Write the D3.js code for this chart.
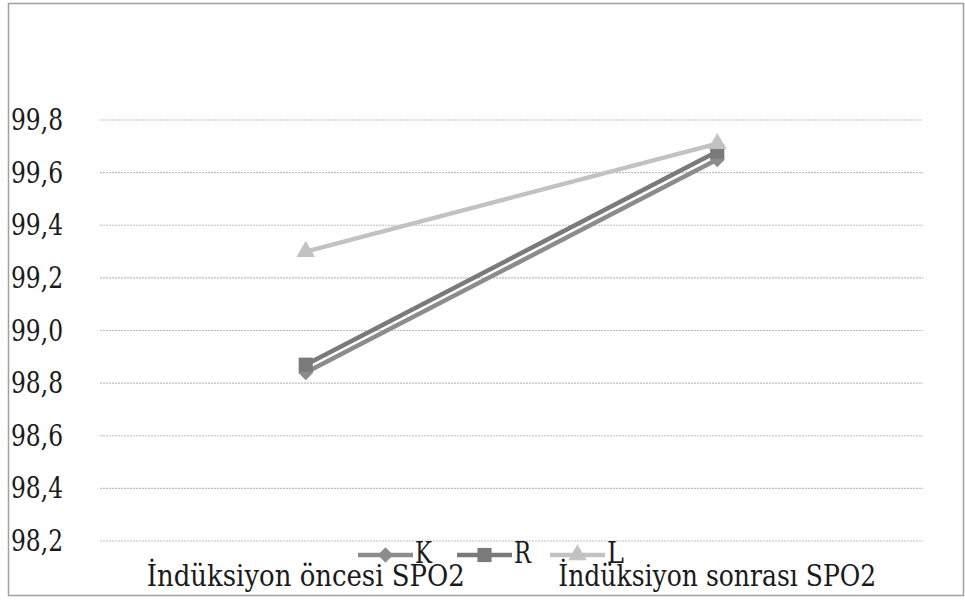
<!DOCTYPE html>
<html>
<head>
<meta charset="utf-8">
<script src="https://cdn.jsdelivr.net/npm/d3@7"></script>
<style>
  html, body { margin: 0; padding: 0; background: #fff; }
  svg { display: block; }
</style>
</head>
<body>
<svg id="chart" width="965" height="606"></svg>
<script>
// Categories and series values (SpO2, %)
const categories = ["İndüksiyon öncesi SPO2", "İndüksiyon sonrası SPO2"];
const seriesNames = ["K", "R", "L"];
const valuesK = [98.84, 99.65];
const valuesR = [98.87, 99.68];
const valuesL = [99.30, 99.71];
const tickValues = [98.2, 98.4, 98.6, 98.8, 99.0, 99.2, 99.4, 99.6, 99.8];

const FONT = "DejaVu Serif";

const series = [
  { name: seriesNames[0], values: valuesK, color: "#8c8c8c", symbol: d3.symbolDiamond2, size: 150 },
  { name: seriesNames[1], values: valuesR, color: "#7a7a7a", symbol: d3.symbolSquare, size: 200 },
  { name: seriesNames[2], values: valuesL, color: "#c2c2c2", symbol: d3.symbolTriangle, size: 150 }
];

const svg = d3.select("#chart")
  .attr("font-family", FONT);

// Outer frame
svg.append("rect")
  .attr("x", 8.5).attr("y", 3.5)
  .attr("width", 955).attr("height", 592)
  .attr("fill", "none")
  .attr("stroke", "#a0a0a0")
  .attr("stroke-width", 1.5);

const plot = { left: 100, right: 923 };

const x = d3.scaleBand()
  .domain(categories)
  .range([plot.left, plot.right]);

const y = d3.scaleLinear()
  .domain([98.2, 99.8])
  .range([541, 120]);

// Horizontal gridlines
svg.append("g")
  .selectAll("line")
  .data(tickValues)
  .join("line")
  .attr("x1", plot.left).attr("x2", plot.right)
  .attr("y1", d => y(d)).attr("y2", d => y(d))
  .attr("stroke", "#bdbdbd")
  .attr("stroke-width", 1.2)
  .attr("stroke-dasharray", "2,1");

// Y tick labels, left-aligned against the frame (narrow, Times-like proportions)
const fmt = d => d3.format(".1f")(d).replace(".", ",");
svg.append("g")
  .selectAll("text")
  .data(tickValues)
  .join("text")
  .attr("x", 11)
  .attr("y", d => y(d) + 10)
  .attr("font-size", 29)
  .attr("textLength", 52)
  .attr("lengthAdjust", "spacingAndGlyphs")
  .attr("fill", "#1a1a1a")
  .text(fmt);

// Series lines and markers
const line = d3.line()
  .x((d, i) => x(categories[i]) + x.bandwidth() / 2)
  .y(d => y(d));

series.forEach(s => {
  svg.append("path")
    .datum(s.values)
    .attr("d", line)
    .attr("fill", "none")
    .attr("stroke", s.color)
    .attr("stroke-width", 4.5);
});

series.forEach(s => {
  svg.append("g")
    .selectAll("path")
    .data(s.values)
    .join("path")
    .attr("d", d3.symbol().type(s.symbol).size(s.size))
    .attr("transform", (d, i) => `translate(${x(categories[i]) + x.bandwidth() / 2},${y(d)})`)
    .attr("fill", s.color);
});

// Category labels
svg.append("g")
  .selectAll("text")
  .data(categories)
  .join("text")
  .attr("x", d => x(d) + x.bandwidth() / 2)
  .attr("y", 586)
  .attr("text-anchor", "middle")
  .attr("font-size", 30)
  .attr("textLength", 318)
  .attr("lengthAdjust", "spacingAndGlyphs")
  .attr("fill", "#1a1a1a")
  .text(d => d);

// Legend
const legendX = [358, 457, 550];
const legend = svg.append("g");
series.forEach((s, i) => {
  const g = legend.append("g").attr("transform", `translate(${legendX[i]},555)`);
  g.append("line")
    .attr("x1", 0).attr("x2", 55)
    .attr("stroke", s.color).attr("stroke-width", 4.5);
  g.append("path")
    .attr("d", d3.symbol().type(s.symbol).size(s.size))
    .attr("transform", "translate(27.5,0)")
    .attr("fill", s.color);
  g.append("text")
    .attr("x", 57).attr("y", 8)
    .attr("font-size", 30)
    .attr("textLength", 17)
    .attr("lengthAdjust", "spacingAndGlyphs")
    .attr("fill", "#1a1a1a")
    .text(s.name);
});
</script>
</body>
</html>
